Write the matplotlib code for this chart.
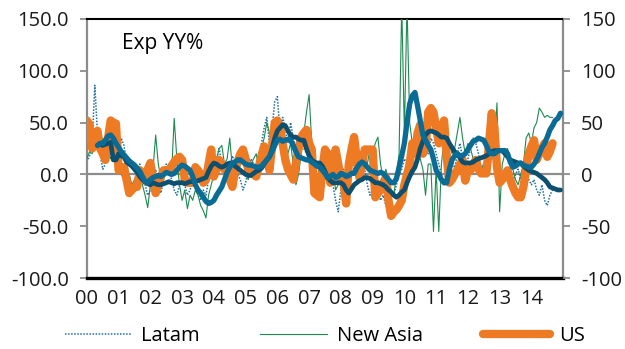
import numpy as np
import matplotlib
matplotlib.use("Agg")
import matplotlib.pyplot as plt

plt.rcParams['font.family'] = ['Open Sans', 'DejaVu Sans']

# ---- data (monthly, starting Jan 2000) ----
us = [52, 48, 25, 40, 42, 25, 20, 14, 35, 52, 50, 49,
      4, 5, 7, -5, -18, -15, -12, -12, 4, 0, -6, 5,
      11, -5, -18, -10, -2, 4, 4, 4, 8, 12, 15, 17,
      14, -5, -8, -8, -8, 7, 4, 0, -8, -5, 10, 24,
      -2, 5, 14, 10, 5, 1, -5, -12, 4, 12, 20, 24,
      15, 5, 1, 0, -2, 8, 18, 27, 15, 4, 27, 50,
      52, 46, 30, 14, 5, 0, -5, 10, 25, 36, 40, 43,
      30, 24, -18, -20, -22, 5, 24, 20, -8, 10, 24, 10,
      -5, -8, -28, 10, 24, 36, 15, -3, 10, 24, 24, 24,
      24, -22, -18, -15, -8, -3, -25, -40, -36, -34, -30, -25,
      -10, 0, 10, 30, 20, 40, 48, 20, 25, 60, 64, 60,
      45, 30, 45, 52, 17, -8, -5, 0, 4, 10, 14, -6,
      4, 4, 10, 14, 5, 1, 1, 1, 30, 59, 46, 7,
      -8, -5, 0, 4, -5, -12, -18, -22, -22, -12, 5, 20,
      27, 33, 14, 20, 25, 30, 17, 22, 30]

latam = [12, 18, 30, 86, 40, 20, 5, 10, 35, 40, 20, 5,
         10, 35, 28, 12, -5, -15, -10, 5, 10, 0, -10, -20,
         -15, -5, 5, -10, -18, -5, 10, 5, -5, -15, -20, -10,
         -5, -10, -20, -15, -5, -10, -20, -25, -15, -20, -5, 10,
         20, 15, 25, 10, 5, 0, 8, 18, 10, 0, -5, -15,
         -8, 5, 15, 10, 5, 20, 30, 45, 55, 30, 45, 70,
         75, 40, 55, 45, 30, 50, 35, 25, 30, 40, 25, 20,
         15, -5, 5, -10, -20, 10, -5, 5, 20, -10, -25, -36,
         -15, 5, -10, 10, 15, 5, 0, 10, 12, 5, -10, -20,
         -15, -5, -15, -25, -20, -30, -25, -15, -20, -10, 0, 5,
         15, 10, 20, 25, 30, 40, 45, 35, 25, 20, 35, 30,
         20, 10, 0, -10, 10, 20, 15, 5, 20, 30, 15, 5,
         15, 25, 35, 30, 20, 5, 10, 0, 5, 15, 20, 10,
         0, -5, 5, -5, 5, -10, 0, 5, -5, 5, 0, -5,
         -10, -5, -15, -20, -10, -25, -30, -20, -15]

new_asia = [15, 22, 20, 28, 30, 25, 35, 30, 20, 15, 25, 10,
            5, 0, -5, 5, 0, -10, -5, 0, 5, -10, -20, -32,
            -10, 5, 38, 10, -5, 0, 5, 10, 0, 54, 15, -10,
            -25, -15, -33, -20, -25, -15, -20, -30, -35, -42, -20, -10,
            0, 15, 25, 28, 10, 15, 35, 5, -10, 5, 10, 15,
            0, -5, 10, 15, 20, 5, 25, 35, 50, 40, 30, 45,
            40, 35, 30, 25, 20, 30, 10, -10, 0, 20, 40, 60,
            77, 30, 15, -10, -25, -20, 0, 10, 20, 5, -15, -10,
            0, -10, -15, 5, 15, 10, 5, 15, 20, 15, 10, 25,
            20, 30, 36, 10, -5, 5, -5, -15, -20, 0, 20, 165,
            40, 165, 50, 30, 40, 25, 15, 5, -20, 10, 10, -55,
            5, -55, 10, 35, 40, 30, 20, 25, 40, 55, 35, 20,
            30, 25, 15, 10, 0, 5, 10, 5, 25, 15, 25, 69,
            -36, 10, 20, 25, 15, 5, -5, -10, 0, 10, 35, 40,
            30, 45, 50, 64, 60, 55, 57, 55, 55]

# smoothed series (start May 2000)
smooth_start = 4
new_asia_ma = [28, 30, 30, 33, 37, 38, 35, 30,
               26, 22, 19, 16, 13, 11, 9, 6, 3, -2, -7, -8,
               -5, -3, -2, -1, -2, 0, 2, 1, 0, 1, 4, 7,
               9, 8, 6, 4, -2, -10, -15, -18, -22, -26, -28, -27,
               -25, -20, -16, -12, -5, 2, 7, 11, 12, 14, 14, 12,
               10, 9, 9, 8, 7, 7, 8, 11, 14, 17, 22, 28,
               33, 34, 32, 33, 34, 33, 28, 22, 17, 16, 15, 14,
               14, 12, 10, 8, 7, 4, 1, -3, -2, 0, -3, -2,
               1, 0, -2, -1, 1, 1, 6, 10, 12, 10, 7, 4,
               3, 2, 1, 2, 1, -2, -5, -8, -8, -4, 7, 18,
               30, 50, 68, 76, 79, 66, 52, 38, 33, 28, 24, 15,
               4, 0, -5, -8, -8, 5, 14, 18, 20, 18, 18, 20,
               24, 28, 32, 33, 35, 34, 33, 28, 22, 20, 20, 22,
               23, 23, 23, 20, 12, 7, 8, 10, 11, 9, 8, 7,
               7, 10, 14, 20, 26, 30, 36, 43, 47, 52, 54, 59]

latam_ma = [28, 29, 28, 29, 30, 31, 14, 14,
            20, 18, 17, 12, 10, 8, 5, 2, -2, -5, -7, -9,
            -10, -8, -9, -10, -10, -9, -8, -7, -8, -9, -8, -8,
            -8, -9, -8, -7, -7, -7, -6, -5, -4, -3, 3, 8,
            11, 10, 8, 7, 8, 10, 11, 11, 8, 6, 4, 2,
            0, -1, -1, 1, 3, 4, 6, 10, 14, 17, 25, 35,
            42, 45, 48, 47, 42, 38, 36, 36, 34, 33, 33, 25,
            18, 14, 12, 11, 11, 8, 3, -3, -6, -8, -8, -8,
            -8, -10, -15, -18, -14, -10, -8, -6, -5, -3, -3, -4,
            -6, -8, -8, -9, -10, -12, -15, -17, -20, -22, -20, -17,
            -15, -8, -2, 3, 7, 15, 25, 32, 38, 41, 42, 41,
            40, 38, 36, 36, 35, 30, 26, 22, 20, 16, 12, 11,
            11, 11, 12, 14, 15, 16, 17, 18, 20, 22, 23, 23,
            23, 23, 20, 17, 14, 13, 12, 11, 11, 8, 6, 4,
            3, 2, 1, -1, -3, -5, -8, -12, -13, -14, -15, -15]

year_labels = ['00', '01', '02', '03', '04', '05', '06', '07',
               '08', '09', '10', '11', '12', '13', '14']
left_ticks = [-100, -50, 0, 50, 100, 150]

# ---- figure ----
fig = plt.figure(figsize=(6.25, 3.49), dpi=100)
ax = fig.add_axes([0.139, 0.203, 0.762, 0.743])

def months(series, start=0):
    return (np.arange(len(series)) + start) / 12.0

FS = 14.5

ax.axhline(0, color='#8c8c8c', lw=1.6, zorder=1)

l_lat, = ax.plot(months(latam), latam, color='#1f6fa0', lw=1.1,
                 linestyle=(0, (1, 1)), zorder=2, label='Latam')
l_na, = ax.plot(months(new_asia), new_asia, color='#1e8a50', lw=0.8,
                zorder=3, label='New Asia')
l_us, = ax.plot(months(us), us, color='#ef7a24', lw=6.0,
                solid_capstyle='round', solid_joinstyle='round', zorder=4, label='US')
ax.plot(months(latam_ma, smooth_start), latam_ma, color='#0d4f6e', lw=3.4,
        zorder=5, solid_capstyle='round')
ax.plot(months(new_asia_ma, smooth_start), new_asia_ma, color='#0a6b94', lw=3.8,
        zorder=6, solid_capstyle='round')

ax.set_xlim(0, 15)
ax.set_ylim(-100, 150)
ax.set_yticks(left_ticks)
ax.set_yticklabels([f'{v:.1f}' for v in left_ticks])
ax.set_xticks(range(len(year_labels)))
ax.set_xticklabels(year_labels)

for s in ['left', 'right']:
    ax.spines[s].set_color('#8c8c8c')
    ax.spines[s].set_linewidth(1.6)
ax.spines['top'].set_color('black')
ax.spines['top'].set_linewidth(1.5)
ax.spines['bottom'].set_color('black')
ax.spines['bottom'].set_linewidth(2.4)

ax.tick_params(axis='y', direction='out', length=5, width=1.3, color='#8c8c8c',
               labelsize=FS, pad=8, labelcolor='#1a1a1a')
ax.tick_params(axis='x', length=0, labelsize=FS, pad=8, labelcolor='#1a1a1a')

ax2 = ax.twinx()
ax2.set_ylim(-100, 150)
ax2.set_yticks(left_ticks)
ax2.set_yticklabels([str(v) for v in left_ticks])
for s in ax2.spines.values():
    s.set_visible(False)
ax2.tick_params(axis='y', direction='out', length=5, width=1.3, color='#8c8c8c',
                labelsize=FS, pad=8, labelcolor='#1a1a1a')

ax.text(0.073, 0.905, 'Exp YY%', transform=ax.transAxes, fontsize=15,
        ha='left', va='center', color='black')

fig.legend(handles=[l_lat, l_na, l_us], loc='center', ncol=3,
           bbox_to_anchor=(0.52, 0.037), frameon=False, fontsize=FS,
           handlelength=3.3, columnspacing=3.0, handletextpad=0.5)

fig.savefig('out.png', dpi=100)
